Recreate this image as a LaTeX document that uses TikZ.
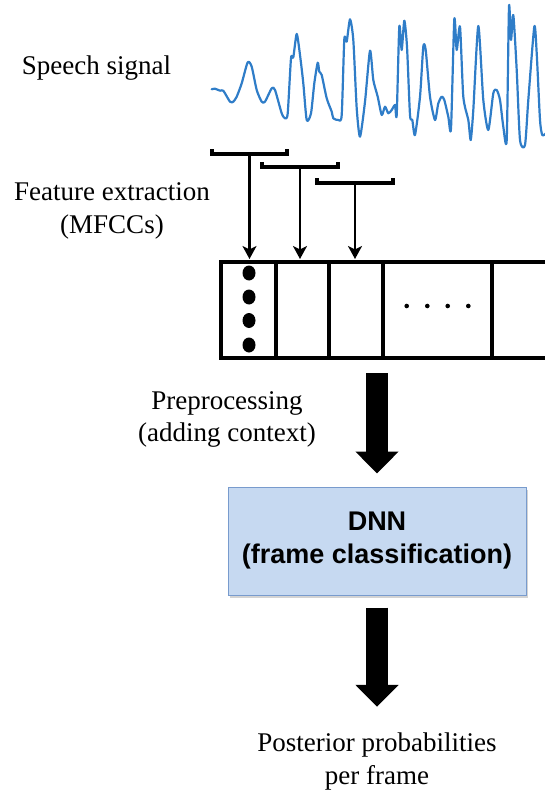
\documentclass[tikz,border=0pt]{standalone}
\usepackage{fontspec}
\setmainfont{Liberation Serif}
\setsansfont{Liberation Sans}
\usetikzlibrary{arrows.meta,shadows}

\definecolor{sigblue}{RGB}{47,125,200}
\definecolor{dnnfill}{RGB}{198,217,241}
\definecolor{dnnedge}{RGB}{120,155,205}

\tikzset{
  lbl/.style={font=\fontsize{27}{32.5}\selectfont, inner sep=0pt, align=center},
  dnnbox/.style={draw=dnnedge, line width=1pt, fill=dnnfill,
    minimum width=298pt, minimum height=108pt, inner sep=0pt,
    font=\sffamily\bfseries\fontsize{27}{33}\selectfont, align=center,
    drop shadow={opacity=0.35, shadow xshift=1.5pt, shadow yshift=-2.5pt}},
  framebox/.style={draw, line width=4.2pt, minimum width=339pt, minimum height=96pt,
    inner sep=0pt, outer sep=0pt},
  bracket/.style={line width=3.2pt},
  featarrow/.style={line width=2.8pt, -{Stealth[length=13pt,width=14pt,inset=3.5pt]}},
  bigarrow/.style={line width=22pt, -{Triangle[width=42pt,length=22pt]}},
  signal/.style={sigblue, line width=2.2pt, line join=round, line cap=round},
}

\begin{document}
\begin{tikzpicture}[x=1pt, y=-1pt]
\useasboundingbox (0,0) rectangle (545,791);
\begin{scope}
\clip (0,0) rectangle (545,791);

% waveform of the speech signal
\draw[signal] plot[smooth, tension=0.4] coordinates {
 (211.7,89.3) (215,88.7) (220,90.7) (223.3,90.7) (230,101.7) (233.3,101.7)
 (236.7,96.7) (241.7,83.3) (247.7,62.3) (251.7,66.7) (256.7,90) (261.7,101.7)
 (265,101.7) (271.7,88.3) (275,90) (281.7,113.3) (285,118.3) (287.7,113.3)
 (291,58.3) (293.3,57.3) (296.7,34) (300,55) (303.3,83.3) (306.7,120)
 (311,113.3) (314.3,83.3) (317.7,62.7) (319.3,71.7) (321.7,75) (326.7,98.3)
 (331.7,111.7) (333.3,118.3) (338.3,120) (341.7,115) (344.3,39.3) (346.7,41.7)
 (350,19.3) (353.3,40) (356.7,108.3) (360,136.7) (365,101.7) (370,50.7)
 (373.3,80) (377.7,96.7) (381.7,115) (385,106.7) (388.3,113.3) (391.7,110)
 (395,105) (396.7,115) (399.3,26.7) (401.7,50) (404.3,20.7) (407,46.7)
 (410,115) (412.3,120) (415,135) (420,96.7) (423.3,46.7) (425.7,50)
 (430,96.7) (435,120) (438.3,103.3) (441.7,96.7) (444.3,100) (448.3,116.7)
 (451,128.3) (454.3,19.3) (456.7,50) (460,26.7) (463.3,96.7) (468.3,120)
 (470.7,140) (473.3,110) (478.3,26) (483.3,100) (488.3,130) (493.3,93.3)
 (496.7,90) (500,100) (503.3,126.7) (506.7,140) (509,6.7) (511,40)
 (513.3,15) (516.7,70) (520,140) (525,145) (528.3,100) (534.3,26.7)
 (536.7,53.3) (540,120) (542.3,135) (546,133.3)};

% labels
\node[lbl] (speech) at (96.5,68) {Speech signal};
\node[lbl] (feat) at (112,211) {Feature extraction\\(MFCCs)};
\node[lbl] (prep) at (227,419.5) {Preprocessing\\(adding context)};
\node[lbl] (post) at (377,761.5) {Posterior probabilities\\per frame};

% analysis windows
\coordinate (w1) at (249.5,154);
\coordinate (w2) at (300,167);
\coordinate (w3) at (355,183);
\draw[bracket] (212,149.5) -- (212,154) -- (287,154) -- (287,149.5);
\draw[bracket] (262,162.5) -- (262,167) -- (338,167) -- (338,162.5);
\draw[bracket] (317,178.5) -- (317,183) -- (393,183) -- (393,178.5);

% sequence of feature frames
\node[framebox] (frames) at (390.5,310) {};
\foreach \x in {275.7,329,383,492}
  \draw[line width=4.2pt] (\x,262) -- (\x,358);
\coordinate (f1) at (249.5,259);
\coordinate (f2) at (300,259);
\coordinate (f3) at (355,259);
\foreach \y in {273,297,320.5,345}
  \fill (249,\y) ellipse [x radius=6.5pt, y radius=7.5pt];
\foreach \x in {406.7,427.3,447.7,468.3}
  \fill (\x,306) circle [radius=2.3pt];

\draw[featarrow] (w1) -- (f1);
\draw[featarrow] (w2) -- (f2);
\draw[featarrow] (w3) -- (f3);

% classifier
\node[dnnbox] (dnn) at (377,541) {DNN\\(frame classification)};

\draw[bigarrow, shorten <=15pt, shorten >=13pt] (frames.south -| dnn.north) -- (dnn.north);
\draw[bigarrow, shorten <=12pt, shorten >=26pt] (dnn.south) -- (post.north);
\end{scope}
\end{tikzpicture}
\end{document}
